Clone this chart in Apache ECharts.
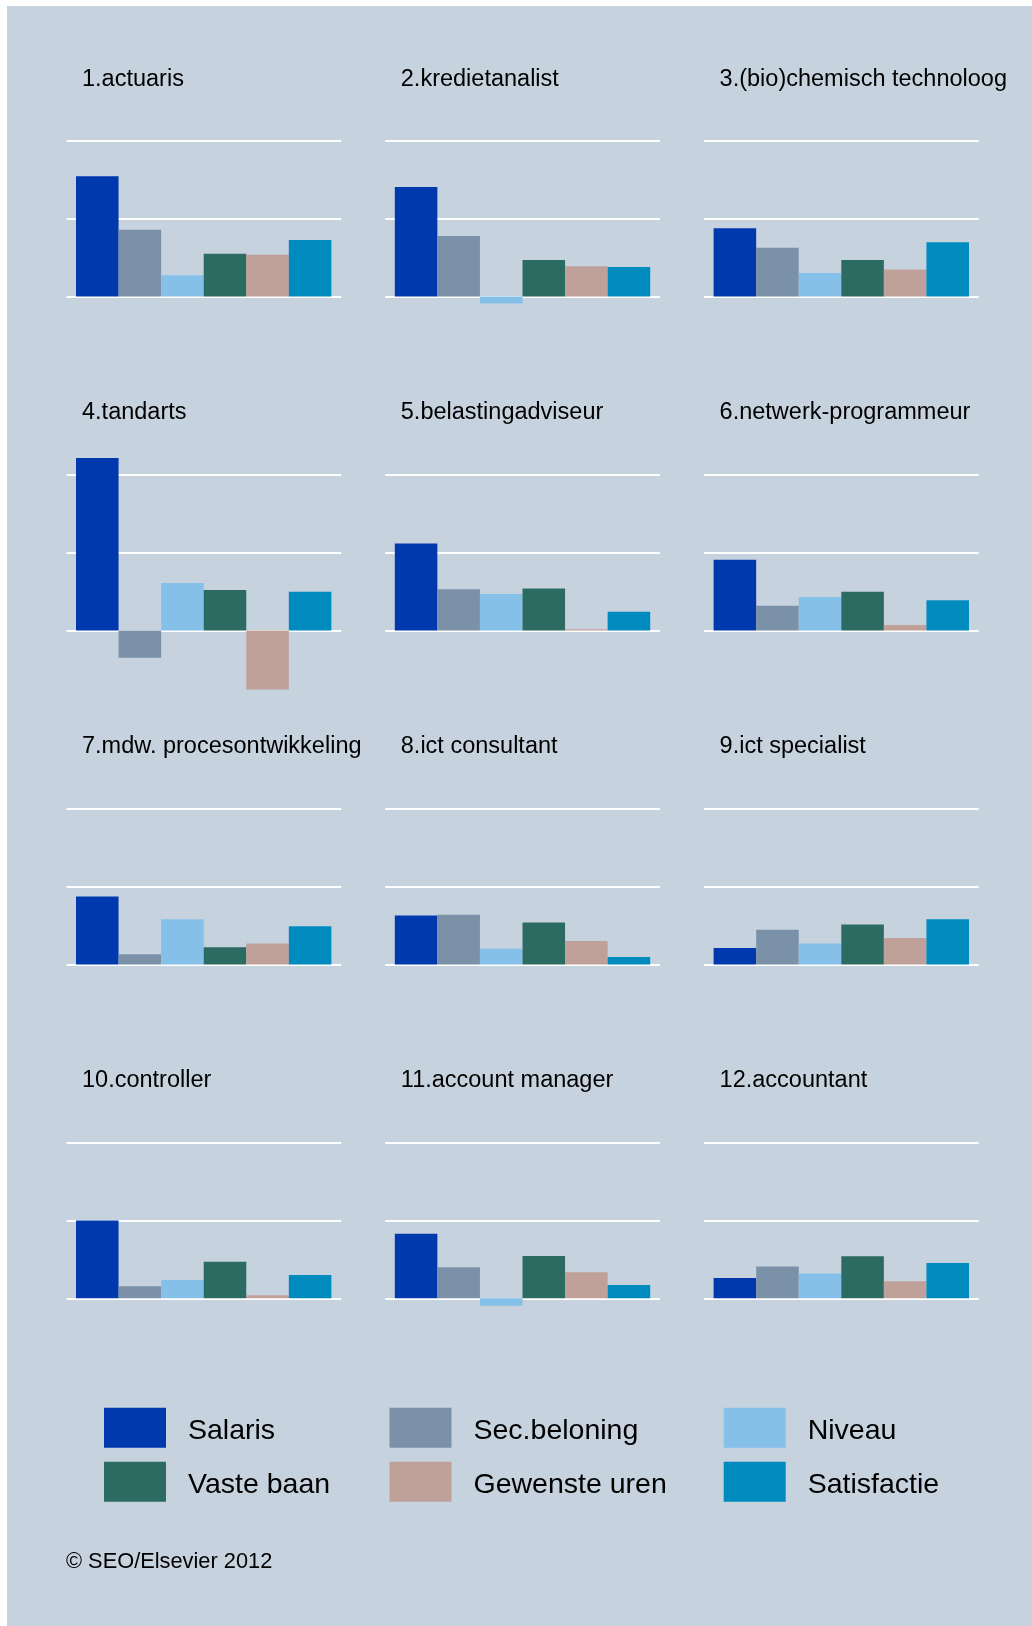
<!DOCTYPE html>
<html>
<head>
<meta charset="utf-8">
<script src="https://cdn.jsdelivr.net/npm/echarts@6/dist/echarts.min.js"></script>
<style>
html,body{margin:0;padding:0;background:#fff;}
#chart{width:1032px;height:1626px;}
</style>
</head>
<body>
<div id="chart"></div>
<script>
// ---- data ----
const categories = ['1.actuaris','2.kredietanalist','3.(bio)chemisch technoloog','4.tandarts','5.belastingadviseur','6.netwerk-programmeur','7.mdw. procesontwikkeling','8.ict consultant','9.ict specialist','10.controller','11.account manager','12.accountant'];
const seriesNames = ['Salaris','Sec.beloning','Niveau','Vaste baan','Gewenste uren','Satisfactie'];
const salaris      = [15.5, 14.1, 8.8, 22.2, 11.2, 9.1, 8.75, 6.3, 2.1, 10.0, 8.3, 2.6];
const secBeloning  = [8.6, 7.8, 6.3, -3.5, 5.3, 3.2, 1.3, 6.4, 4.45, 1.55, 4.0, 4.1];
const niveau       = [2.75, -0.9, 3.05, 6.1, 4.7, 4.3, 5.8, 2.0, 2.7, 2.35, -0.95, 3.2];
const vasteBaan    = [5.5, 4.7, 4.7, 5.2, 5.4, 5.0, 2.2, 5.4, 5.15, 4.7, 5.45, 5.4];
const gewensteUren = [5.4, 3.9, 3.5, -7.6, 0.15, 0.7, 2.7, 3.0, 3.4, 0.4, 3.35, 2.2];
const satisfactie  = [7.3, 3.8, 7.0, 5.0, 2.4, 3.9, 4.9, 0.95, 5.8, 3.0, 1.7, 4.55];
const yMin = -10, yMax = 30, yInterval = 10;
const footerText = '© SEO/Elsevier 2012';

// ---- styling ----
const seriesValues = [salaris, secBeloning, niveau, vasteBaan, gewensteUren, satisfactie];
const colors = ['#0039AD','#7B91A8','#85C0E9','#2C6B61','#BFA19A','#008BBE'];
const FONT = '"Liberation Sans", Arial, sans-serif';
const unitPx = 77.7;
const zeroY0 = 296.6, rowStep = 333.9;
const gridLeft0 = 66.4, colStep = 318.8, gridW = 274.6;

const grids = [], xAxes = [], yAxes = [], series = [], graphics = [];
graphics.push({type:'rect', left:7, top:6, shape:{width:1025, height:1620}, style:{fill:'#C6D3DF'}, z:-10, silent:true});

categories.forEach((cat, i) => {
  const r = Math.floor(i / 3), c = i % 3;
  const zero = zeroY0 + rowStep * r;
  const top = zero - (yMax / yInterval) * unitPx;
  const h = ((yMax - yMin) / yInterval) * unitPx;
  grids.push({left: gridLeft0 + colStep * c, top: top, width: gridW, height: h});
  xAxes.push({type:'category', gridIndex:i, data:[cat], show:false});
  yAxes.push({type:'value', gridIndex:i, min:yMin, max:yMax, interval:yInterval,
    axisLine:{show:false}, axisTick:{show:false}, axisLabel:{show:false},
    splitLine:{show:true, showMinLine:false, showMaxLine:false, lineStyle:{color:'#ffffff', width:2}}});
  seriesNames.forEach((name, s) => {
    series.push({type:'bar', name:name, xAxisIndex:i, yAxisIndex:i,
      data:[seriesValues[s][i]], barGap:'0%', barCategoryGap:'7%',
      itemStyle:{color:colors[s]}, animation:false});
  });
  graphics.push({type:'text', left: 82 + colStep * c, top: zero - 219 - 10.5,
    style:{text:cat, font:'23.5px ' + FONT, fill:'#000'}});
});

graphics.push({type:'text', left:66, top:1561.7 - 10.5, style:{text:footerText, font:'21.8px ' + FONT, fill:'#000'}});

const legendCols = [[0,3],[1,4],[2,5]];
const legendLeft = [104, 389.5, 723.7];
const legends = legendCols.map((idx, k) => ({
  orient:'vertical', left:legendLeft[k], top:1407.7, padding:0,
  itemWidth:62, itemHeight:40, itemGap:14, icon:'rect',
  data: idx.map(j => seriesNames[j]),
  formatter: '{t|{name}}',
  textStyle:{fontFamily:FONT, fontSize:28.5, color:'#000',
    rich:{t:{fontFamily:FONT, fontSize:28.5, color:'#000', padding:[6,0,0,17]}}}
}));

const chart = echarts.init(document.getElementById('chart'), null, {renderer:'canvas'});
chart.setOption({
  backgroundColor:'#ffffff',
  animation:false,
  color: colors,
  grid: grids, xAxis: xAxes, yAxis: yAxes, series: series,
  legend: legends,
  graphic: graphics
});
</script>
</body>
</html>
